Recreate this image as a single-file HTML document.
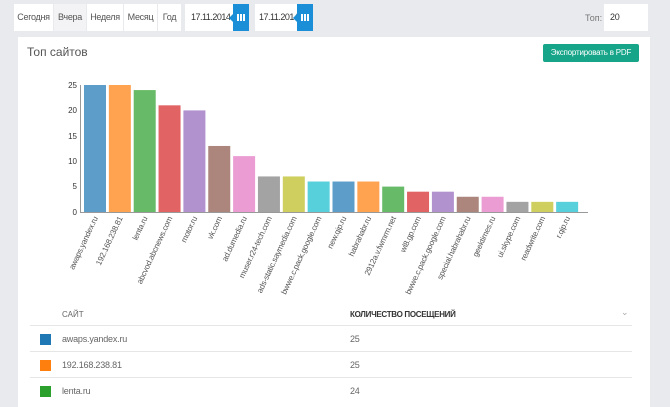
<!DOCTYPE html>
<html><head><meta charset="utf-8"><style>
body{margin:0;width:670px;height:400px;background:#e9eaee;font-family:"Liberation Sans",sans-serif;position:relative;overflow:hidden}
.b{position:absolute;top:4px;height:27px;background:#fff;font-size:9px;letter-spacing:-0.3px;color:#555;line-height:27px;text-align:center;white-space:nowrap;overflow:hidden}
.cal{position:absolute;top:4px;height:27px;width:16px;background:#1a8fd8}
.cal:before{content:"";position:absolute;left:-4px;top:10px;border:4px solid transparent;border-right-color:#1a8fd8;border-left:0}
.cal i{position:absolute;left:4px;top:10px;width:8px;height:7px;background:repeating-linear-gradient(90deg,#fff 0 2px,transparent 2px 3px),#1a8fd8}
.panel{position:absolute;left:18px;top:37px;width:632px;height:370px;background:#fff}
.row{position:absolute;left:12px;width:602px;border-top:1px solid #e6e6e6;height:26px;font-size:9px;color:#666;letter-spacing:-0.2px}
.sq{position:absolute;left:10px;top:8px;width:11px;height:11px}
</style></head><body>
<div class="b" style="left:14px;width:39px">Сегодня</div>
<div class="b" style="left:54px;width:32px;background:#f3f3f5">Вчера</div>
<div class="b" style="left:87px;width:36px">Неделя</div>
<div class="b" style="left:124px;width:33px">Месяц</div>
<div class="b" style="left:158px;width:23px">Год</div>
<div class="b" style="left:185px;width:48px;color:#333;text-align:left;text-indent:6px;letter-spacing:-0.5px">17.11.2014</div>
<div class="cal" style="left:233px"><i></i></div>
<div class="b" style="left:255px;width:42px;color:#333;text-align:left;text-indent:4px;letter-spacing:-0.5px">17.11.2014</div>
<div class="cal" style="left:297px"><i></i></div>
<div style="position:absolute;left:585px;top:13px;font-size:9px;color:#777">Топ:</div>
<div class="b" style="left:604px;width:44px;text-align:left;color:#333;text-indent:6px">20</div>
<div class="panel">
<div style="position:absolute;left:9px;top:8px;font-size:12px;color:#555">Топ сайтов</div>
<div style="position:absolute;left:525px;top:7px;width:96px;height:18px;background:#17a589;border-radius:2px;color:#fff;font-size:8px;letter-spacing:-0.2px;line-height:18px;text-align:center">Экспортировать в PDF</div>
<div style="position:absolute;left:44px;top:273px;font-size:8px;color:#666">САЙТ</div>
<div style="position:absolute;left:332px;top:273px;font-size:8px;color:#333;font-weight:bold;letter-spacing:-0.3px">КОЛИЧЕСТВО ПОСЕЩЕНИЙ</div>
<div style="position:absolute;left:603px;top:270px;font-size:9px;color:#aaa">⌄</div>
<div class="row" style="top:288px"><div class="sq" style="background:#1f77b4"></div><span style="position:absolute;left:32px;top:8px">awaps.yandex.ru</span><span style="position:absolute;left:320px;top:8px">25</span></div>
<div class="row" style="top:314px"><div class="sq" style="background:#ff7f0e"></div><span style="position:absolute;left:32px;top:8px">192.168.238.81</span><span style="position:absolute;left:320px;top:8px">25</span></div>
<div class="row" style="top:340px"><div class="sq" style="background:#2ca02c"></div><span style="position:absolute;left:32px;top:8px">lenta.ru</span><span style="position:absolute;left:320px;top:8px">24</span></div>
</div>
<svg style="position:absolute;left:0;top:0" width="670" height="400" font-family="Liberation Sans,sans-serif">
<g font-size="8" fill="#333" text-anchor="end">
<text x="77" y="215">0</text><text x="77" y="164">10</text><text x="77" y="139">15</text><text x="77" y="189">5</text><text x="77" y="113">20</text><text x="77" y="88">25</text>
</g>
<line x1="80" y1="212.5" x2="588" y2="212.5" stroke="#999"/>
<line x1="80.5" y1="85" x2="80.5" y2="212" stroke="#999"/>
<g id="bars"></g>
</svg>
<script>
var v=[25,25,24,21,20,13,11,7,7,6,6,6,5,4,4,3,3,2,2,2];
var n=["awaps.yandex.ru","192.168.238.81","lenta.ru","abcvod.abcnews.com","motor.ru","vk.com","ad.dumedia.ru","muser.r24-tech.com","ads-static.saymedia.com","bwwe.c.pack.google.com","new.qip.ru","habrahabr.ru","2912a.v.fwmrm.net","wl8.gp.com","bwwe.c.pack.google.com","special.habrahabr.ru","geektimes.ru","ui.skype.com","readwrite.com","r.qip.ru"];
var c=["#1f77b4","#ff7f0e","#2ca02c","#d62728","#9467bd","#8c564b","#e377c2","#7f7f7f","#bcbd22","#17becf"];
var s="";
for(var i=0;i<20;i++){var x=84+i*24.85,h=v[i]*5.08;
s+='<rect x="'+x+'" y="'+(212-h)+'" width="22" height="'+h+'" fill="'+c[i%10]+'" opacity="0.72"/>';
var cx=x+14;s+='<text transform="translate('+cx+',218) rotate(-65)" text-anchor="end" font-size="8" fill="#555" letter-spacing="-0.2">'+n[i]+'</text>';}
document.getElementById("bars").innerHTML=s;
</script>
</body></html>
